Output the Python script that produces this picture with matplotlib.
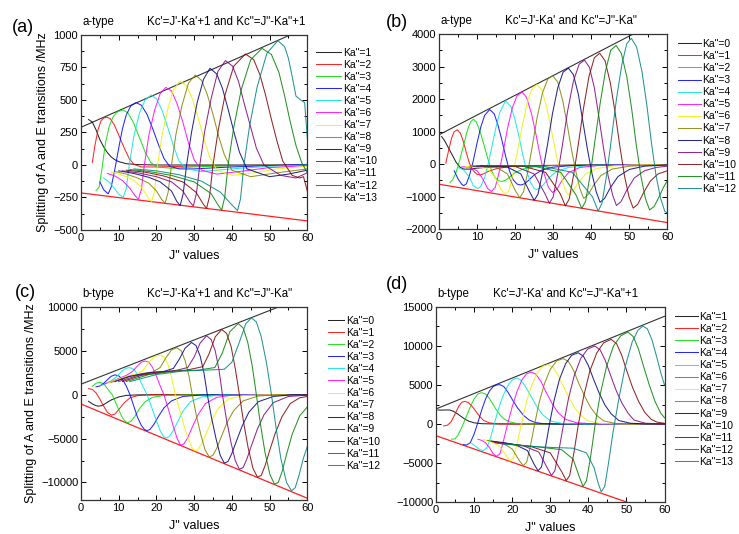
import matplotlib
matplotlib.use('Agg')
import matplotlib.pyplot as plt
from matplotlib.ticker import MultipleLocator

plt.rcParams['font.family'] = ['Liberation Sans', 'DejaVu Sans']

# Origin-like default colour order
colors = ['#000000', '#ff0000', '#00dd00', '#0000ff', '#00e5e5', '#ff00ff',
          '#f0f000', '#808000', '#000080', '#800080', '#800000', '#008000', '#008080']

edge_J = [0, 60]

# ---- (a) a-type, Kc'=J'-Ka'+1, Kc"=J"-Ka"+1, Ka"=1..13
a_upper = [290, 1058]
a_lower = [-215, -430]
a_J = [
    [2, 3, 4, 5, 6, 7, 8, 9, 10, 12, 15, 20, 30, 40, 50, 60],
    [3, 3.7, 4.5, 5.3, 6.1, 6.9, 7.8, 8.8, 9.8, 10.8, 11.8, 12.8, 14, 16, 20, 30, 45, 60],
    [4, 4.8, 5.5, 6.5, 7.5, 8.5, 9.7, 11.1, 12.5, 14, 15.5, 17, 18.5, 20, 24, 30, 40, 60],
    [5, 6, 7.2, 8, 9, 10, 11, 12, 13.2, 14.6, 16, 17.5, 19, 20.5, 22, 23.5, 26, 30, 40, 50, 60],
    [6, 7, 8, 9, 10, 11.2, 12, 12.8, 14, 15.5, 17, 18.6, 20, 21.5, 23, 24.5, 26, 28, 32, 40, 50, 60],
    [7, 9, 11, 13, 14.3, 15.2, 16, 16.8, 18, 19.5, 21, 22.5, 24, 25.5, 27, 28.5, 30, 32, 36, 42, 50, 60],
    [8, 10, 12, 14, 16, 17.8, 18.7, 19.5, 20.3, 21.5, 23, 24.5, 26.3, 28, 29.5, 31, 32.5, 34, 36, 40, 46, 52, 60],
    [9, 12, 15, 18, 20, 21.4, 22.3, 23.1, 24, 25.2, 26.8, 28.5, 30.3, 32, 33.5, 35, 36.5, 38, 40, 45, 52, 60],
    [10, 14, 18, 21, 24, 25.4, 26.3, 27.1, 28, 29.3, 30.8, 32.5, 34.2, 36, 37.5, 39, 40.5, 42, 44, 50, 55, 60],
    [11, 15, 20, 24, 27, 28.9, 29.8, 30.6, 31.5, 32.8, 34.5, 36.3, 38.3, 40.2, 41.8, 43.3, 45, 46.5, 48.5, 53, 57, 60],
    [12, 17, 22, 27, 30.5, 32.4, 33.3, 34.1, 35, 36.4, 38.2, 40.5, 43.6, 45.8, 47.5, 49, 50.5, 52, 53.5, 56, 58, 59, 60],
    [13, 18, 24, 30, 34.5, 36.4, 37.3, 38.1, 39, 40.5, 42.5, 45, 48, 50.5, 52.5, 54, 55.5, 57, 58.5, 60],
    [14, 20, 26, 32, 37, 39.8, 41.5, 42.3, 43.2, 44.7, 46.7, 49.3, 52.2, 54, 55, 56, 57, 58.5, 59.3, 60],
]
a_V = [
    [350, 330, 270, 195, 140, 95, 62, 40, 26, 10, 3, 0, 0, 0, 0, 0],
    [20, 150, 270, 340, 362, 367, 355, 310, 245, 175, 110, 50, 5, -15, -15, -8, -3, 0],
    [-197, -170, -40, 170, 300, 370, 410, 423, 400, 320, 210, 100, 20, -15, -25, -15, -5, 0],
    [-130, -190, -222, -170, -30, 130, 280, 385, 455, 480, 460, 390, 280, 160, 50, -10, -30, -30, -15, -5, 5],
    [-100, -120, -150, -185, -225, -248, -180, 0, 220, 400, 500, 538, 510, 420, 290, 150, 30, -30, -50, -30, -10, 0],
    [-65, -85, -120, -180, -235, -264, -190, 0, 230, 420, 550, 597, 570, 470, 330, 170, 40, -40, -70, -50, -20, -5],
    [-55, -70, -90, -120, -170, -250, -282, -200, 0, 230, 430, 580, 646, 610, 510, 370, 210, 70, -40, -80, -60, -30, -10],
    [-50, -70, -100, -140, -200, -265, -295, -210, 0, 240, 460, 630, 692, 650, 540, 390, 220, 80, -40, -90, -60, -30],
    [-45, -65, -95, -130, -200, -280, -312, -220, 0, 250, 480, 660, 744, 700, 590, 430, 260, 100, -30, -90, -70, -40],
    [-45, -60, -90, -130, -200, -285, -315, -220, 0, 260, 510, 720, 803, 760, 640, 470, 290, 130, 0, -80, -100, -60],
    [-40, -55, -85, -130, -210, -300, -333, -240, 0, 270, 540, 760, 854, 810, 690, 530, 350, 180, 30, -80, -100, -90, -200],
    [-35, -50, -80, -130, -220, -310, -346, -250, 0, 290, 580, 810, 897, 850, 710, 530, 330, 150, 20, -60],
    [-30, -45, -75, -125, -210, -300, -351, -260, 0, 300, 600, 860, 956, 910, 820, 680, 530, 495, 480, 210],
]

# ---- (b) a-type, Kc'=J'-Ka', Kc"=J"-Ka", Ka"=0..12
b_upper = [903, 4546]
b_lower = [-615, -1795]
b_J = [
    [0.7, 1.5, 2.5, 3.5, 4.5, 5.5, 6.5, 8, 10, 13, 20, 30, 45, 60],
    [1.8, 2.5, 3.3, 4, 4.8, 5.6, 6.4, 7.2, 8, 9, 10, 10.8, 11.8, 13, 15, 18, 25, 40, 60],
    [2.9, 3.6, 4.5, 5.5, 6.5, 7.5, 8.3, 9, 9.8, 10.8, 11.8, 12.8, 13.8, 14.8, 15.7, 16.5, 17.5, 18.7, 20, 22, 25, 30, 40, 60],
    [4, 5, 6, 6.5, 7.2, 8, 9, 10, 11, 12, 13.3, 14.5, 15.5, 16.5, 17.5, 18.5, 19.5, 20.5, 21.5, 22.5, 23.5, 25, 27, 30, 35, 45, 60],
    [5, 6.5, 8, 9, 10.2, 11, 12, 13, 14, 15, 16, 17.5, 19, 20, 21, 22, 23, 24, 25, 25.6, 26.5, 27.5, 29, 31, 34, 40, 50, 60],
    [6, 8, 10, 11.5, 12.8, 13.8, 14.8, 15.8, 16.8, 18, 19.3, 20.5, 21.8, 23, 24.3, 25.5, 26.5, 27.5, 28.7, 29.8, 31, 32.2, 34, 37, 42, 50, 60],
    [7, 10, 12.5, 14.5, 16.3, 17.5, 18.5, 19.5, 20.7, 22, 23.3, 24.6, 25.8, 27, 28.3, 29.5, 30.7, 31.8, 33, 34, 35.2, 36.5, 38.5, 41.5, 46, 52, 60],
    [8, 12, 15, 18, 20, 21.2, 22.2, 23.3, 24.5, 25.8, 27.2, 28.6, 29.9, 31.2, 32.5, 33.7, 34.8, 35.9, 37, 38, 39.2, 40.6, 42.5, 45.5, 50, 55, 60],
    [9, 14, 18, 21.5, 23.8, 25, 26, 27.2, 28.5, 29.8, 31.2, 32.6, 34, 35.3, 36.6, 37.8, 39, 40.2, 41.3, 42.3, 43.5, 45, 47, 50, 54, 60],
    [10, 15, 20, 25, 27.8, 29, 30, 31.2, 32.5, 33.8, 35.3, 36.8, 38.2, 39.5, 40.8, 42, 43.2, 44.4, 45.6, 46.6, 47.8, 49.3, 51.3, 54, 57, 60],
    [11, 16, 22, 28, 31.8, 33.2, 34.2, 35.4, 36.7, 38, 39.4, 40.8, 42.2, 43.6, 45, 46.3, 47.5, 48.7, 49.9, 51, 52.2, 53.7, 55.5, 57.5, 60],
    [12, 18, 25, 32, 36, 37.5, 38.5, 39.7, 41, 42.3, 43.7, 45.1, 46.5, 47.9, 49.3, 50.6, 51.8, 53, 54.2, 55.3, 56.5, 57.8, 59, 60],
    [13, 20, 27, 35, 40.3, 41.8, 42.8, 44, 45.3, 46.6, 48, 49.3, 50.5, 51.9, 53.3, 54.6, 55.8, 57, 58.2, 59.3, 60],
]
b_V = [
    [850, 720, 500, 280, 60, -90, -150, -150, -120, -90, -60, -40, -30, -20],
    [30, 400, 800, 1000, 1056, 960, 700, 350, 30, -200, -310, -330, -290, -220, -140, -80, -40, -20, -10],
    [-560, -480, -250, 150, 600, 1050, 1300, 1380, 1300, 1000, 600, 180, -200, -420, -510, -530, -490, -380, -260, -150, -80, -40, -20, -10],
    [-200, -450, -620, -660, -600, -350, 100, 650, 1150, 1500, 1680, 1550, 1200, 750, 250, -200, -480, -610, -640, -600, -500, -330, -180, -90, -40, -20, -10],
    [-100, -180, -400, -650, -750, -680, -400, 50, 600, 1150, 1600, 1950, 1750, 1350, 850, 300, -200, -550, -740, -780, -740, -620, -400, -220, -100, -40, -20, -10],
    [-80, -90, -200, -450, -750, -840, -700, -250, 350, 1100, 1750, 2100, 2220, 2050, 1550, 900, 300, -250, -700, -870, -760, -520, -260, -100, -40, -20, -10],
    [-70, -80, -120, -350, -780, -930, -780, -250, 450, 1250, 1950, 2350, 2450, 2280, 1750, 1050, 350, -250, -750, -945, -830, -580, -300, -130, -50, -20, -10],
    [-60, -60, -90, -300, -800, -1030, -850, -250, 550, 1450, 2200, 2620, 2720, 2520, 1950, 1200, 450, -200, -750, -1050, -930, -650, -350, -150, -60, -30, -15],
    [-60, -60, -90, -300, -850, -1110, -920, -250, 600, 1550, 2350, 2830, 2950, 2750, 2150, 1300, 450, -300, -850, -1170, -1050, -720, -380, -160, -60, -20],
    [-50, -50, -70, -300, -900, -1200, -1000, -280, 650, 1650, 2550, 3070, 3200, 2980, 2350, 1450, 500, -350, -950, -1270, -1150, -800, -420, -200, -100, -60],
    [-50, -50, -60, -250, -900, -1280, -1070, -300, 700, 1750, 2700, 3270, 3410, 3180, 2500, 1550, 550, -350, -1000, -1350, -1230, -880, -520, -300, -200],
    [-50, -50, -60, -250, -950, -1360, -1140, -330, 750, 1850, 2850, 3500, 3650, 3400, 2700, 1700, 600, -350, -1050, -1405, -1300, -1000, -700, -500],
    [-40, -40, -60, -250, -1000, -1440, -1200, -350, 800, 2000, 3050, 3700, 3870, 3600, 2850, 1800, 650, -350, -1050, -1450, -1500],
]

# ---- (c) b-type, Kc'=J'-Ka'+1, Kc"=J"-Ka", Ka"=0..12
c_upper = [1200, 11280]
c_lower = [-1057, -11800]
c_J = [
    [2, 3, 4, 4.6, 5.5, 6.5, 8, 10, 12, 15, 20, 30, 45, 60],
    [2, 3, 4, 5, 6, 7, 8.1, 9, 10, 11.5, 13, 15, 18, 25, 40, 60],
    [3, 4, 5, 6, 7, 8.3, 9.5, 10.6, 11.5, 12.3, 13.2, 14.2, 15.5, 17, 19, 22, 30, 45, 60],
    [4, 5, 6, 7, 8, 9, 10, 11, 12, 13, 14, 15, 16, 16.8, 17.5, 18.3, 19.3, 20.5, 22, 24, 27, 32, 45, 60],
    [5, 6, 7, 8, 9, 10, 11, 12, 13, 14, 15, 16, 17.5, 18.8, 20, 21, 21.8, 22.5, 23.3, 24.3, 25.5, 27, 29, 32, 37, 45, 60],
    [6, 8, 10, 12, 13.5, 14.8, 16, 17, 18, 19, 20, 21, 22, 23.2, 24.4, 25.5, 26.4, 27.3, 28.3, 29.5, 31, 33, 36, 40, 50, 60],
    [7, 10, 13, 15, 16.5, 18, 19.5, 20.9, 22, 23, 24, 25, 26.2, 27.5, 28.7, 29.5, 30.2, 31, 32, 33.2, 34.7, 36.5, 39, 43, 50, 60],
    [8, 12, 16, 19, 21, 22.5, 24, 25.4, 26.6, 27.6, 28.6, 29.5, 30.6, 31.8, 32.9, 34, 35, 36, 37.2, 38.7, 40.5, 43, 47, 52, 60],
    [9, 13, 18, 22, 24.5, 26, 27.6, 29.3, 30.5, 31.6, 32.6, 33.5, 34.6, 35.8, 36.9, 38, 39, 40, 41.2, 42.7, 44.5, 47, 51, 56, 60],
    [10, 15, 20, 25, 28.3, 30, 31.6, 33.3, 34.5, 35.6, 36.6, 37.5, 38.6, 39.8, 40.9, 42, 43, 44, 45.2, 46.7, 48.5, 51, 55, 60],
    [11, 16, 22, 28, 32.3, 34, 35.6, 37.3, 38.6, 39.8, 40.9, 42, 43.1, 44.3, 45.6, 46.8, 47.8, 48.8, 50, 51.5, 53.3, 55.5, 58, 60],
    [12, 18, 25, 31, 35.5, 37.5, 39.5, 41.7, 43, 44.2, 45.4, 46.5, 47.6, 48.8, 50.1, 51.3, 52.3, 53.3, 54.5, 56, 58, 60],
    [13, 20, 27, 33, 38, 40, 42, 43.7, 45.2, 46.5, 47.8, 49.2, 50.5, 51.7, 53, 54.5, 55.8, 56.8, 57.8, 59, 60],
]
c_V = [
    [-750, -1050, -1250, -1300, -1250, -1000, -600, -250, -80, -20, 0, 0, 0, 0],
    [700, 600, 200, -500, -1300, -2000, -2330, -2200, -1700, -900, -350, -100, -30, 0, 0, 0],
    [950, 1300, 1430, 1250, 700, 0, -1200, -2300, -2950, -3200, -3050, -2500, -1600, -800, -300, -80, 0, 0, 0],
    [900, 1000, 1300, 1700, 2100, 2260, 2150, 1750, 1000, 0, -1300, -2600, -3500, -3950, -4100, -3950, -3400, -2500, -1500, -700, -200, -30, 0, 0],
    [1000, 1150, 1350, 1600, 1900, 2300, 2750, 3020, 3090, 2900, 2300, 1300, 0, -1500, -3000, -4100, -4700, -4950, -4800, -4200, -3200, -1900, -800, -250, -50, 0, 0],
    [1200, 1500, 1850, 2200, 2600, 3200, 3700, 3850, 3700, 3100, 2100, 1000, 0, -1700, -3500, -5000, -5750, -5600, -4900, -3700, -2300, -1000, -300, -50, 0, 0],
    [1300, 1800, 2200, 2400, 2800, 3700, 4350, 4530, 4300, 3500, 2000, 0, -1800, -3800, -5300, -6100, -6400, -6250, -5600, -4400, -2900, -1500, -500, -100, 0, 0],
    [1400, 2000, 2400, 2600, 3100, 4200, 5100, 5360, 5000, 3900, 2200, 0, -2400, -4600, -6300, -7100, -6900, -6100, -4800, -3200, -1800, -700, -150, 0, 0],
    [1500, 2100, 2500, 2650, 3000, 4000, 5300, 5960, 5600, 4400, 2500, 0, -2600, -5000, -6900, -7800, -7600, -6700, -5300, -3600, -2000, -800, -200, 0, 0],
    [1500, 2200, 2600, 2750, 3100, 4300, 5900, 6720, 6300, 5000, 2800, 0, -2900, -5500, -7500, -8500, -8300, -7300, -5800, -4000, -2300, -900, -200, -50],
    [1500, 2200, 2600, 2800, 3200, 4700, 6600, 7430, 7000, 5500, 3000, 0, -3100, -6000, -8400, -9400, -9200, -8100, -6400, -4400, -2500, -1000, -350, -200],
    [1500, 2300, 2700, 2800, 3100, 4800, 7200, 8110, 7600, 6000, 3300, 0, -3400, -6600, -9100, -10200, -10000, -8800, -6800, -4500, -2400, -1400],
    [1500, 2300, 2700, 2800, 2900, 3700, 6000, 8100, 8750, 8300, 6600, 3600, 0, -3700, -7300, -10000, -10950, -10600, -9200, -7200, -5900],
]

# ---- (d) b-type, Kc'=J'-Ka', Kc"=J"-Ka"+1, Ka"=1..13
d_upper = [1930, 13808]
d_lower = [-1500, -11700]
d_J = [
    [0.5, 1.5, 2.5, 3.5, 4.5, 5.5, 6.5, 7.5, 8.5, 10, 12, 15, 20, 30, 45, 60],
    [2, 3, 4, 5, 6, 6.8, 7.6, 8.5, 9.5, 10.5, 11.5, 12.5, 14, 16, 20, 30, 45, 60],
    [4.1, 5, 5.8, 6.8, 8, 9, 10, 11, 12, 13, 14, 15, 16, 17, 18, 19.5, 21, 24, 30, 45, 60],
    [7.2, 8, 9, 10, 11, 12, 13, 14, 15, 16, 16.8, 17.8, 19, 20.2, 21.5, 23, 24.5, 26, 28, 32, 40, 60],
    [9.4, 10.5, 11.5, 12.4, 13.3, 14.3, 15.3, 16.3, 17.5, 18.7, 20, 21.1, 22.2, 23.5, 25, 26.5, 28, 30, 33, 40, 60],
    [11, 12, 13, 14, 15, 15.9, 16.8, 17.8, 18.8, 20, 21.3, 22.6, 23.8, 25, 26.2, 27.5, 29, 30.5, 32, 34, 37, 42, 60],
    [12.5, 14, 15.5, 17, 18.5, 19.4, 20.3, 21.3, 22.4, 23.6, 25, 26.5, 28, 29.4, 30.7, 32, 33.5, 35, 36.5, 38, 40, 43, 50, 60],
    [13.5, 16, 18, 20, 21.9, 22.9, 23.8, 24.8, 25.9, 27.1, 28.5, 30, 31.7, 33.4, 34.8, 36.1, 37.5, 39, 40.5, 42, 44, 47, 52, 60],
    [14.5, 18, 21, 24, 25.8, 26.8, 27.7, 28.7, 29.8, 31, 32.4, 34, 35.6, 37.3, 38.7, 40, 41.4, 42.9, 44.4, 46, 48, 51, 55, 60],
    [15, 19, 23, 27, 29.3, 30.3, 31.2, 32.3, 33.5, 34.8, 36.3, 38, 39.8, 41.7, 43.1, 44.4, 45.8, 47.3, 48.8, 50.4, 52, 55, 60],
    [15.5, 20, 25, 30, 33.1, 34.2, 35.1, 36.2, 37.4, 38.8, 40.4, 42.2, 44, 46, 47.4, 48.7, 50.1, 51.6, 53.2, 54.8, 56.5, 58, 60],
    [16, 22, 28, 33, 36, 37.5, 38.6, 39.5, 40.6, 41.8, 43.2, 44.8, 46.6, 48.5, 50.4, 51.8, 53.1, 54.5, 56, 57.5, 59, 60],
    [16.5, 23, 30, 36, 39.5, 41.5, 42.6, 43.4, 44.3, 45.3, 46.5, 48, 49.7, 51.5, 53, 54.3, 55.5, 56.7, 58, 59, 60],
]
d_V = [
    [1800, 1780, 1800, 1800, 1650, 1350, 1000, 650, 380, 150, 40, 10, 0, 0, 0, 0],
    [-250, -150, 300, 1300, 2300, 2800, 2900, 2750, 2250, 1600, 950, 450, 150, 30, 0, 0, 0, 0],
    [-1950, -1900, -1400, -400, 1000, 2200, 3200, 3850, 4020, 3850, 3300, 2500, 1700, 1050, 600, 250, 80, 10, 0, 0, 0],
    [-2650, -2700, -2400, -1300, 200, 1800, 3200, 4200, 4800, 5020, 5040, 4800, 4000, 3000, 2000, 1100, 500, 200, 50, 0, 0, 0],
    [-2500, -2900, -3300, -3400, -3100, -1800, 0, 1800, 3500, 4800, 5650, 5900, 5650, 4800, 3500, 2200, 1200, 400, 80, 0, 0],
    [-1950, -2100, -2400, -3000, -3800, -4150, -3800, -2000, 0, 2200, 4200, 5700, 6450, 6660, 6400, 5500, 4000, 2600, 1500, 600, 150, 0, 0],
    [-2000, -2200, -2500, -3000, -4100, -4750, -4400, -2500, 0, 2600, 4800, 6500, 7400, 7600, 7300, 6300, 4800, 3300, 2000, 1100, 400, 80, 0, 0],
    [-2100, -2300, -2600, -3200, -4700, -5350, -4900, -2800, 0, 2800, 5200, 7000, 8100, 8380, 8000, 6900, 5200, 3600, 2200, 1200, 400, 80, 0, 0],
    [-2200, -2400, -2700, -3400, -5200, -6000, -5500, -3100, 0, 3000, 5700, 7700, 8800, 9140, 8700, 7500, 5700, 3900, 2400, 1300, 450, 100, 0, 0],
    [-2300, -2500, -2800, -3600, -5700, -6600, -6000, -3300, 0, 3300, 6200, 8400, 9600, 10000, 9500, 8200, 6300, 4300, 2700, 1400, 500, 100, 0],
    [-2400, -2600, -2900, -3700, -6200, -7250, -6600, -3700, 0, 3600, 6800, 9100, 10400, 10850, 10300, 8900, 6800, 4700, 2900, 1500, 600, 250, 80],
    [-2450, -2700, -3000, -3300, -4500, -6600, -8000, -7300, -4200, 0, 4000, 7400, 10000, 11300, 11790, 11200, 9700, 7400, 5000, 2900, 1400, 800],
    [-2500, -2800, -3000, -3100, -3700, -5600, -7600, -8700, -8000, -5000, -1000, 3200, 7400, 10500, 12000, 12560, 12200, 10800, 8500, 6600, 5000],
]

fig = plt.figure(figsize=(7.39, 5.34), dpi=100)


def panel(rect, Js, Vs, ka0, upper, lower, ylim, ymaj, yticks, tag, tag_xy,
          kind, formula, form_x, leg_xy, handle_len, ylabel):
    ax = fig.add_axes(rect)
    ax.plot(edge_J, upper, color='#333333', lw=0.8)
    ax.plot(edge_J, lower, color='#ff2020', lw=0.9)
    for i, (x, y) in enumerate(zip(Js, Vs)):
        ax.plot(x, y, color=colors[i % len(colors)], lw=0.75, alpha=0.85,
                label='Ka"=%d' % (ka0 + i))
    ax.set_xlim(0, 60)
    ax.set_ylim(*ylim)
    ax.set_yticks(yticks)
    ax.xaxis.set_major_locator(MultipleLocator(10))
    ax.xaxis.set_minor_locator(MultipleLocator(5))
    ax.yaxis.set_minor_locator(MultipleLocator(ymaj / 2))
    ax.tick_params(which='both', direction='in', top=True, right=True,
                   labelsize=8, pad=2, width=0.7)
    ax.tick_params(which='major', length=3.5)
    ax.tick_params(which='minor', length=2)
    for s in ax.spines.values():
        s.set_linewidth(0.9)
        s.set_color('#333333')
    ax.set_xlabel('J" values', fontsize=9, labelpad=5)
    if ylabel:
        ax.set_ylabel('Splitting of A and E transitions /MHz', fontsize=9, labelpad=3)
    ax.legend(loc='upper left', bbox_to_anchor=leg_xy, frameon=False, fontsize=7.5,
              handlelength=handle_len, handletextpad=0.15, labelspacing=0.2,
              borderaxespad=0, borderpad=0)
    fig.text(tag_xy[0], tag_xy[1], tag, fontsize=13, ha='left', va='center')
    ax.text(0.005, 1.035, kind, transform=ax.transAxes, fontsize=8.3, ha='left', va='bottom')
    ax.text(form_x, 1.035, formula, transform=ax.transAxes, fontsize=8.3, ha='left', va='bottom')
    return ax


panel([0.1096, 0.5693, 0.3062, 0.3652], a_J, a_V, 1, a_upper, a_lower,
      (-500, 1000), 250, [-500, -250, 0, 250, 500, 750, 1000],
      '(a)', (0.016, 0.948), 'a-type', "Kc'=J'-Ka'+1 and Kc\"=J\"-Ka\"+1", 0.29,
      (1.04, 0.935), 2.4, True)
panel([0.594, 0.5706, 0.3092, 0.3657], b_J, b_V, 0, b_upper, b_lower,
      (-2000, 4000), 1000, [-2000, -1000, 0, 1000, 2000, 3000, 4000],
      '(b)', (0.522, 0.958), 'a-type', "Kc'=J'-Ka' and Kc\"=J\"-Ka\"", 0.29,
      (1.045, 0.975), 2.2, False)
panel([0.1096, 0.0637, 0.3062, 0.3614], c_J, c_V, 0, c_upper, c_lower,
      (-12000, 10000), 5000, [-10000, -5000, 0, 5000, 10000],
      '(c)', (0.02, 0.452), 'b-type', "Kc'=J'-Ka'+1 and Kc\"=J\"-Ka\"", 0.29,
      (1.09, 0.955), 1.6, True)
panel([0.59, 0.0599, 0.3092, 0.3652], d_J, d_V, 1, d_upper, d_lower,
      (-10000, 15000), 5000, [-10000, -5000, 0, 5000, 10000, 15000],
      '(d)', (0.522, 0.468), 'b-type', "Kc'=J'-Ka' and Kc\"=J\"-Ka\"+1", 0.25,
      (1.045, 0.975), 2.2, False)

fig.savefig('out.png', dpi=100)
